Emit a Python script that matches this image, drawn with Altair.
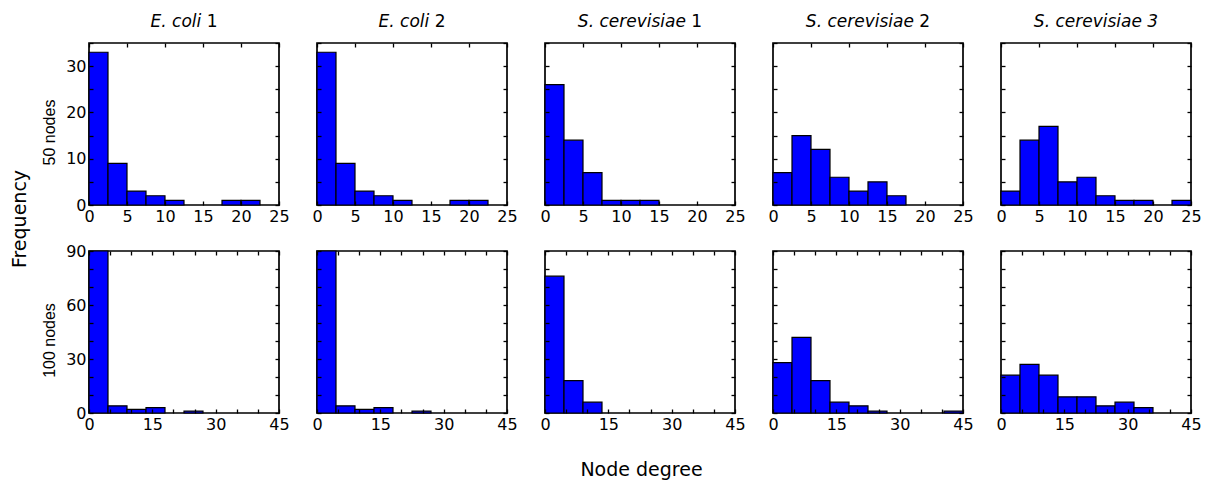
import altair as alt
import pandas as pd

# ---------------- data ----------------
species = ["E. coli", "E. coli", "S. cerevisiae", "S. cerevisiae", "S. cerevisiae 3"]
suffixes = ["1", "2", "1", "2", ""]
row_labels = ["50 nodes", "100 nodes"]

# 50-node networks, bin width 2.5 (0..25)
ecoli1_50 = [33, 9, 3, 2, 1, 0, 0, 1, 1, 0]
ecoli2_50 = [33, 9, 3, 2, 1, 0, 0, 1, 1, 0]
scer1_50 = [26, 14, 7, 1, 1, 1, 0, 0, 0, 0]
scer2_50 = [7, 15, 12, 6, 3, 5, 2, 0, 0, 0]
scer3_50 = [3, 14, 17, 5, 6, 2, 1, 1, 0, 1]

# 100-node networks, bin width 4.5 (0..45)
ecoli1_100 = [90, 4, 2, 3, 0, 1, 0, 0, 0, 0]
ecoli2_100 = [90, 4, 2, 3, 0, 1, 0, 0, 0, 0]
scer1_100 = [76, 18, 6, 0, 0, 0, 0, 0, 0, 0]
scer2_100 = [28, 42, 18, 6, 4, 1, 0, 0, 0, 1]
scer3_100 = [21, 27, 21, 9, 9, 4, 6, 3, 0, 0]

rows = [
    dict(counts=[ecoli1_50, ecoli2_50, scer1_50, scer2_50, scer3_50],
         bw=2.5, xmax=25, xstep=5, xlab=5, ymax=35, ystep=5, ylab=10),
    dict(counts=[ecoli1_100, ecoli2_100, scer1_100, scer2_100, scer3_100],
         bw=4.5, xmax=45, xstep=5, xlab=15, ymax=90, ystep=10, ylab=30),
]

# ---------------- style ----------------
W, H = 190, 162
BLUE = "#0000FF"
TS = 4            # inward tick length
FONT = "DejaVu Sans"
TITLE_SIZE = 17

# approximate DejaVu Sans advance widths (em)
_w = {" ": .318, ".": .318, "E": .632, "S": .635, "c": .55, "o": .612, "l": .278,
      "i": .278, "e": .615, "r": .411, "v": .592, "s": .521, "a": .613}
def text_w(s, size):
    return sum(_w.get(ch, .636) for ch in s) * size


def panel(r, c):
    spec = rows[r]
    counts = spec["counts"][c]
    bw = spec["bw"]
    df = pd.DataFrame({
        "start": [i * bw for i in range(len(counts))],
        "end": [(i + 1) * bw for i in range(len(counts))],
        "count": counts,
    })
    df = df[df["count"] > 0]

    xs = alt.Scale(domain=[0, spec["xmax"]], nice=False, zero=False)
    ys = alt.Scale(domain=[0, spec["ymax"]], nice=False)
    xvals = list(range(0, spec["xmax"] + 1, spec["xstep"]))
    yvals = list(range(0, spec["ymax"] + 1, spec["ystep"]))

    common = dict(offset=-TS, tickSize=TS, domain=False, grid=False,
                  labelFlush=False, labelOverlap=False, zindex=1)
    xaxis = alt.Axis(values=xvals, title=None, labelPadding=3,
                     labelExpr=f"datum.value % {spec['xlab']} == 0 ? datum.label : ''",
                     **common)
    if c == 0:
        yaxis = alt.Axis(values=yvals, title=row_labels[r], labelPadding=3,
                         labelExpr=f"datum.value % {spec['ylab']} == 0 ? datum.label : ''",
                         titleFont="Liberation Sans", titleFontSize=16,
                         titleFontWeight="normal", titleColor="black",
                         titlePadding=8, titleY=H / 2 + 8, **common)
    else:
        yaxis = alt.Axis(values=yvals, title=None, labels=False, **common)
    xaxis_top = alt.Axis(values=xvals, title=None, labels=False, orient="top", **common)
    yaxis_right = alt.Axis(values=yvals, title=None, labels=False, orient="right", **common)

    base = alt.Chart(df)
    bars = base.mark_bar(fill=BLUE, stroke="black", strokeWidth=1.2).encode(
        x=alt.X("start:Q", scale=xs, axis=xaxis),
        x2="end:Q",
        y=alt.Y("count:Q", scale=ys, axis=yaxis),
        y2=alt.datum(0),
    )
    mirror = base.mark_point(opacity=0).encode(
        x=alt.X("start:Q", scale=xs, axis=xaxis_top),
        y=alt.Y("count:Q", scale=ys, axis=yaxis_right),
    )
    layers = [bars, mirror]

    if r == 0:
        it, suf = species[c], suffixes[c]
        wi = text_w(it, TITLE_SIZE)
        wsp = text_w(" ", TITLE_SIZE) if suf else 0
        ws = text_w(suf, TITLE_SIZE)
        junction = W / 2 - (wi + wsp + ws) / 2 + wi
        layers.append(
            alt.Chart(pd.DataFrame({"t": [it]})).mark_text(
                align="right", baseline="alphabetic", font=FONT,
                fontSize=TITLE_SIZE, fontStyle="italic", color="black"
            ).encode(text="t:N", x=alt.value(junction), y=alt.value(-16))
        )
        if suf:
            layers.append(
                alt.Chart(pd.DataFrame({"t": [suf]})).mark_text(
                    align="left", baseline="alphabetic", font=FONT,
                    fontSize=TITLE_SIZE, color="black"
                ).encode(text="t:N", x=alt.value(junction + wsp), y=alt.value(-16))
            )
        if c == 0:
            layers.append(
                alt.Chart(pd.DataFrame({"t": ["Frequency"]})).mark_text(
                    angle=270, align="center", baseline="middle", font=FONT,
                    fontSize=19, color="black"
                ).encode(text="t:N", x=alt.value(-69.5), y=alt.value(176))
            )
    if r == 1 and c == 2:
        layers.append(
            alt.Chart(pd.DataFrame({"t": ["Node degree"]})).mark_text(
                align="center", baseline="alphabetic", font=FONT,
                fontSize=19, color="black"
            ).encode(text="t:N", x=alt.value(W / 2 + 1.5), y=alt.value(H + 63))
        )

    return alt.layer(*layers).resolve_axis(x="independent", y="independent").properties(
        width=W, height=H)


charts = [panel(r, c) for r in range(2) for c in range(5)]

chart = alt.concat(
    *charts, columns=5, spacing={"row": 46, "column": 38}, bounds="flush"
).properties(
    padding={"left": 1, "top": 4, "right": 0, "bottom": 0},
    background="white",
).configure_view(
    stroke="black", strokeWidth=1.7
).configure_axis(
    labelFont=FONT, labelFontSize=16, labelColor="black",
    tickColor="black", tickWidth=1.3
)

chart.save("out.html", embed_options={"renderer": "svg", "actions": False})
